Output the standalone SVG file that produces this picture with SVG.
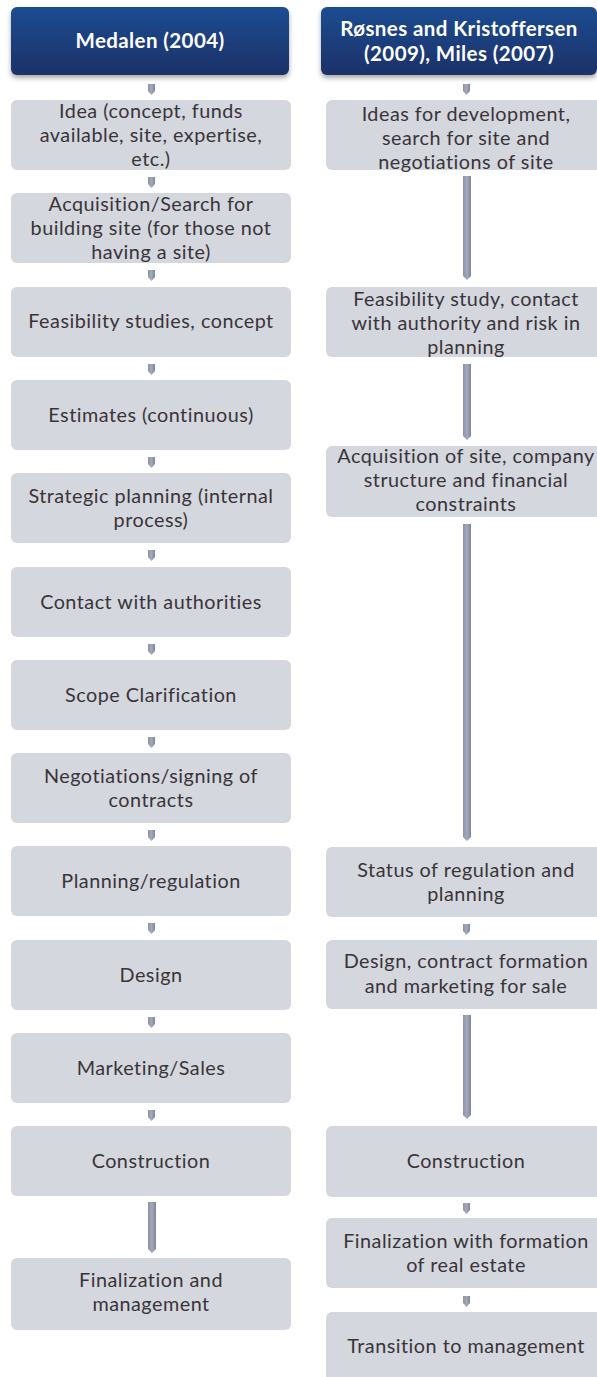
<svg xmlns="http://www.w3.org/2000/svg" width="597" height="1377" viewBox="0 0 597 1377">
<style>
.hdr{fill:url(#hg);filter:url(#sh)}
.box{fill:#d4d7de}
.ht{font-family:Lato,"Open Sans",sans-serif;font-size:20.5px;font-weight:bold;letter-spacing:0.4px;fill:#ffffff;text-anchor:middle}
.bt{font-family:Lato,"Open Sans",sans-serif;font-size:19.8px;letter-spacing:0.5px;fill:#3a3438;text-anchor:middle}
.arr{fill:url(#ag)}
</style>
<defs>
<linearGradient id="hg" x1="0" y1="0" x2="0" y2="1">
<stop offset="0" stop-color="#1f4c91"/>
<stop offset="1" stop-color="#1b3168"/>
</linearGradient>
<linearGradient id="ag" x1="0" y1="0" x2="1" y2="0">
<stop offset="0" stop-color="#8d93a8"/>
<stop offset="0.5" stop-color="#a3a8ba"/>
<stop offset="1" stop-color="#7f8599"/>
</linearGradient>
<filter id="sh" x="-10%" y="-10%" width="120%" height="130%">
<feDropShadow dx="0" dy="3" stdDeviation="2.5" flood-color="#000" flood-opacity="0.35"/>
</filter>
</defs>
<rect width="597" height="1377" fill="#ffffff"/>

<g id="connectors">
<path class="arr" d="M148 84h7v7l-3.5 4l-3.5-4z"/>
<path class="arr" d="M148 177h7v7l-3.5 4l-3.5-4z"/>
<path class="arr" d="M148 270h7v7l-3.5 4l-3.5-4z"/>
<path class="arr" d="M148 364h7v7l-3.5 4l-3.5-4z"/>
<path class="arr" d="M148 457h7v7l-3.5 4l-3.5-4z"/>
<path class="arr" d="M148 550h7v7l-3.5 4l-3.5-4z"/>
<path class="arr" d="M148 644h7v7l-3.5 4l-3.5-4z"/>
<path class="arr" d="M148 737h7v7l-3.5 4l-3.5-4z"/>
<path class="arr" d="M148 830h7v7l-3.5 4l-3.5-4z"/>
<path class="arr" d="M148 923h7v7l-3.5 4l-3.5-4z"/>
<path class="arr" d="M148 1017h7v7l-3.5 4l-3.5-4z"/>
<path class="arr" d="M148 1110h7v7l-3.5 4l-3.5-4z"/>
<path class="arr" d="M148 1202h8v47l-4 4l-4-4z"/>
<path class="arr" d="M463 84h7v7l-3.5 4l-3.5-4z"/>
<path class="arr" d="M463 924h7v7l-3.5 4l-3.5-4z"/>
<path class="arr" d="M463 1203h7v7l-3.5 4l-3.5-4z"/>
<path class="arr" d="M463 1296h7v7l-3.5 4l-3.5-4z"/>
<path class="arr" d="M463 176h8v100l-4 4l-4-4z"/>
<path class="arr" d="M463 364h8v72l-4 4l-4-4z"/>
<path class="arr" d="M463 524h8v313l-4 4l-4-4z"/>
<path class="arr" d="M463 1015h8v100l-4 4l-4-4z"/>
</g>

<g id="h-left"><rect class="hdr" x="11" y="7" width="278" height="68" rx="6"/><text class="ht" x="150" y="48">Medalen (2004)</text></g>
<g id="h-right"><rect class="hdr" x="321" y="7" width="276" height="68" rx="6"/><text class="ht" x="459" y="36">Røsnes and Kristoffersen<tspan x="459" dy="25">(2009), Miles (2007)</tspan></text></g>

<g id="l1"><rect class="box" x="11" y="100" width="280" height="70" rx="6"/><text class="bt" x="151" y="118">Idea (concept, funds<tspan x="151" dy="24">available, site, expertise,</tspan><tspan x="151" dy="24">etc.)</tspan></text></g>
<g id="l2"><rect class="box" x="11" y="193" width="280" height="70" rx="6"/><text class="bt" x="151" y="211">Acquisition/Search for<tspan x="151" dy="24">building site (for those not</tspan><tspan x="151" dy="24">having a site)</tspan></text></g>
<g id="l3"><rect class="box" x="11" y="287" width="280" height="70" rx="6"/><text class="bt" x="151" y="328">Feasibility studies, concept</text></g>
<g id="l4"><rect class="box" x="11" y="380" width="280" height="70" rx="6"/><text class="bt" x="151" y="422">Estimates (continuous)</text></g>
<g id="l5"><rect class="box" x="11" y="473" width="280" height="70" rx="6"/><text class="bt" x="151" y="503">Strategic planning (internal<tspan x="151" dy="24">process)</tspan></text></g>
<g id="l6"><rect class="box" x="11" y="567" width="280" height="70" rx="6"/><text class="bt" x="151" y="609">Contact with authorities</text></g>
<g id="l7"><rect class="box" x="11" y="660" width="280" height="70" rx="6"/><text class="bt" x="151" y="702">Scope Clarification</text></g>
<g id="l8"><rect class="box" x="11" y="753" width="280" height="70" rx="6"/><text class="bt" x="151" y="783">Negotiations/signing of<tspan x="151" dy="24">contracts</tspan></text></g>
<g id="l9"><rect class="box" x="11" y="846" width="280" height="70" rx="6"/><text class="bt" x="151" y="888">Planning/regulation</text></g>
<g id="l10"><rect class="box" x="11" y="940" width="280" height="70" rx="6"/><text class="bt" x="151" y="982">Design</text></g>
<g id="l11"><rect class="box" x="11" y="1033" width="280" height="70" rx="6"/><text class="bt" x="151" y="1075">Marketing/Sales</text></g>
<g id="l12"><rect class="box" x="11" y="1126" width="280" height="70" rx="6"/><text class="bt" x="151" y="1168">Construction</text></g>
<g id="l13"><rect class="box" x="11" y="1258" width="280" height="72" rx="6"/><text class="bt" x="151" y="1287">Finalization and<tspan x="151" dy="24">management</tspan></text></g>

<g id="r1"><rect class="box" x="326" y="100" width="280" height="70" rx="6"/><text class="bt" x="466" y="121">Ideas for development,<tspan x="466" dy="24">search for site and</tspan><tspan x="466" dy="24">negotiations of site</tspan></text></g>
<g id="r2"><rect class="box" x="326" y="287" width="280" height="70" rx="6"/><text class="bt" x="466" y="306">Feasibility study, contact<tspan x="466" dy="24">with authority and risk in</tspan><tspan x="466" dy="24">planning</tspan></text></g>
<g id="r3"><rect class="box" x="326" y="446" width="280" height="71" rx="6"/><text class="bt" x="466" y="463">Acquisition of site, company<tspan x="466" dy="24">structure and financial</tspan><tspan x="466" dy="24">constraints</tspan></text></g>
<g id="r4"><rect class="box" x="326" y="847" width="280" height="70" rx="6"/><text class="bt" x="466" y="877">Status of regulation and<tspan x="466" dy="24">planning</tspan></text></g>
<g id="r5"><rect class="box" x="326" y="940" width="280" height="69" rx="6"/><text class="bt" x="466" y="968">Design, contract formation<tspan x="466" dy="24.5">and marketing for sale</tspan></text></g>
<g id="r6"><rect class="box" x="326" y="1126" width="280" height="71" rx="6"/><text class="bt" x="466" y="1168">Construction</text></g>
<g id="r7"><rect class="box" x="326" y="1218" width="280" height="70" rx="6"/><text class="bt" x="466" y="1248">Finalization with formation<tspan x="466" dy="24">of real estate</tspan></text></g>
<g id="r8"><rect class="box" x="326" y="1312" width="280" height="75" rx="6"/><text class="bt" x="466" y="1353">Transition to management</text></g>
</svg>
